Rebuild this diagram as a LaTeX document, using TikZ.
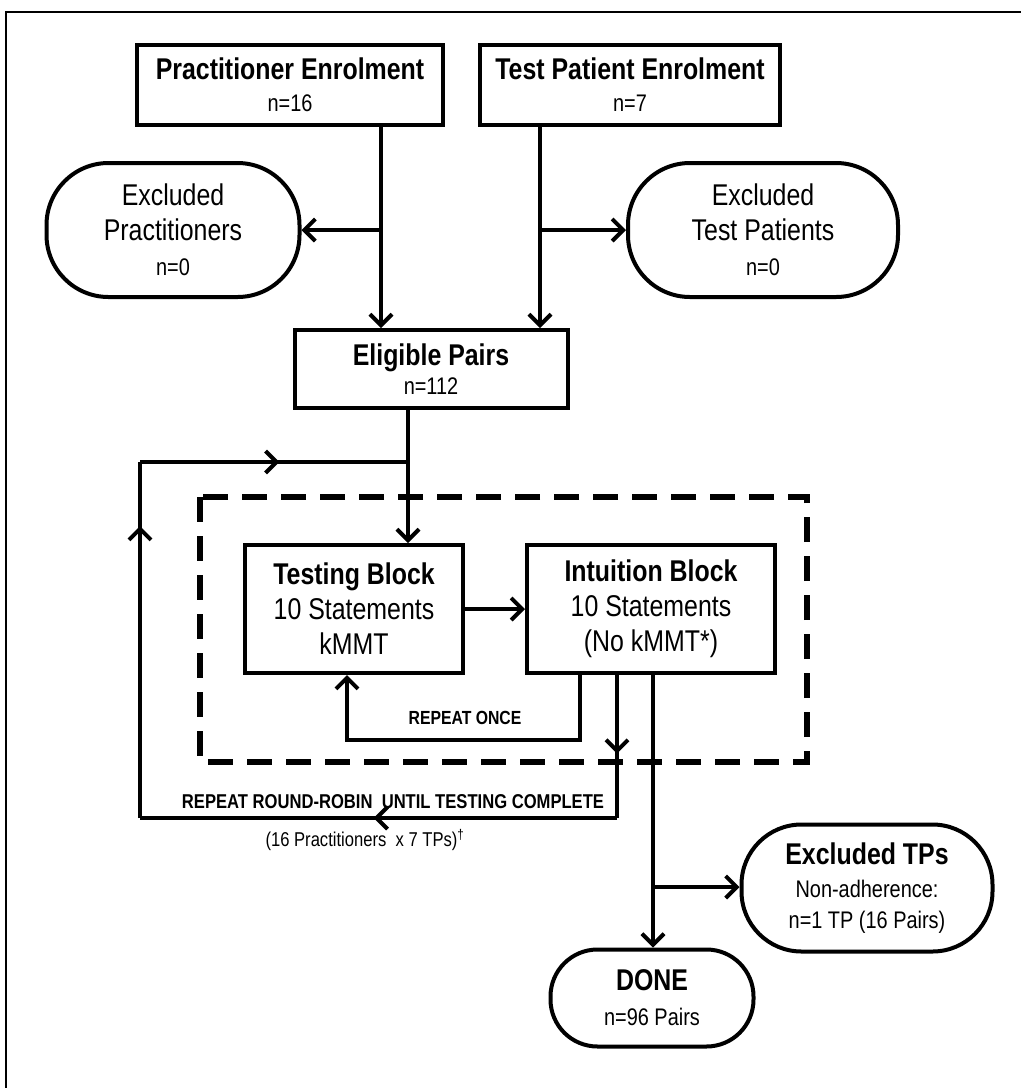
\documentclass[tikz,border=0pt]{standalone}
\usepackage{fontspec}
\setmainfont{Liberation Sans}[FakeStretch=0.83]
\usetikzlibrary{arrows.meta,decorations.markings}

% font sizes used in the boxes
\newcommand\hdfont{\fontsize{30}{35}\selectfont\bfseries}
\newcommand\txfont{\fontsize{30}{35}\selectfont}
\newcommand\smfont{\fontsize{24}{35}\selectfont}
\newcommand\tgfont{\fontsize{20}{24}\selectfont\bfseries}

\begin{document}
\begin{tikzpicture}[x=1pt,y=-1pt,line width=4pt,
    >={Straight Barb[length=11pt,width=22pt,line width=4pt]},
    box/.style={draw,line width=4pt,align=center,inner sep=0pt,font=\txfont},
    pill/.style={box,rounded corners=62pt},
    midarrow/.style={postaction={decorate},
        decoration={markings,mark=at position #1 with {\arrow{>}}}}]
\useasboundingbox (0,0) rectangle (1021,1088);
% page frame
\draw[line width=2.5pt] (6,1090) |- (1023,12);

\draw
    (290,85)  node[box,minimum width=306,minimum height=80] (prac)
        {{\hdfont Practitioner Enrolment}\\[-3pt]{\smfont n=16}}
    (630,85)  node[box,minimum width=300,minimum height=80] (tpat)
        {{\hdfont Test Patient Enrolment}\\[-3pt]{\smfont n=7}}
    (173,230) node[pill,minimum width=253,minimum height=134] (exprac)
        {Excluded\\Practitioners\\{\smfont n=0}}
    (763,230) node[pill,minimum width=270,minimum height=134] (extpat)
        {Excluded\\Test Patients\\{\smfont n=0}}
    (431,369) node[box,minimum width=273,minimum height=78] (elig)
        {{\hdfont Eligible Pairs}\\[-6pt]{\smfont n=112}}
    (354,609) node[box,minimum width=218,minimum height=128] (test)
        {{\hdfont Testing Block}\\10 Statements\\kMMT}
    (651,609) node[box,minimum width=248,minimum height=128] (intu)
        {{\hdfont Intuition Block}\\10 Statements\\(No kMMT*)}
    (867,888) node[pill,minimum width=251,minimum height=127,rounded corners=60pt] (extp)
        {{\hdfont Excluded TPs}\\[-2pt]{\smfont Non-adherence:}\\[-4pt]{\smfont n=1 TP (16 Pairs)}}
    (652,998) node[pill,minimum width=203,minimum height=97,rounded corners=47pt] (done)
        {{\hdfont DONE}\\{\smfont n=96 Pairs}};

% junctions
\coordinate (pj) at (381,230);
\coordinate (tj) at (540,230);
\coordinate (ej) at (408,462);
\coordinate (lu) at (140,462);
\coordinate (ld) at (140,818);
\coordinate (rr) at (617,818);
\coordinate (ra) at (580,740);
\coordinate (rb) at (347,740);
\coordinate (dj) at (653,887);

% enrolment and exclusions
\draw[->] (prac.south -| pj) -- (elig.north -| pj);
\draw[->] (pj) -- (exprac.east);
\draw[->] (tpat.south -| tj) -- (elig.north -| tj);
\draw[->] (tj) -- (extpat.west);

% testing round
\draw[dash pattern=on 25pt off 14pt,line width=6pt] (200,497) rectangle (807,762);
\draw[->] (elig.south -| ej) -- (test.north -| ej);
\draw[->] (test.east) -- (intu.west);
\draw[->] (intu.south -| ra) -- (ra) -- (rb) -- (test.south -| rb);
\node[font=\fontsize{19}{22}\selectfont\bfseries] (once) at (465,718) {REPEAT ONCE};

% round-robin loop
\draw[midarrow=0.55] (intu.south -| rr) -- (rr);
\draw[midarrow=0.51] (rr) -- (ld);
\draw[midarrow=0.82] (ld) -- (lu);
\draw[midarrow=0.52] (lu) -- (ej);
\node[font=\tgfont] (rrobin) at (393,802) {REPEAT ROUND-ROBIN \ UNTIL TESTING COMPLETE};
\node[font=\fontsize{20}{24}\selectfont] (pairs) at (365,840)
    {(16 Practitioners \ x 7 TPs)\textsuperscript{\textdagger}};

% end of testing
\draw[->] (intu.south -| dj) -- (done.north -| dj);
\draw[->] (dj) -- (extp.west |- dj);
\end{tikzpicture}
\end{document}
